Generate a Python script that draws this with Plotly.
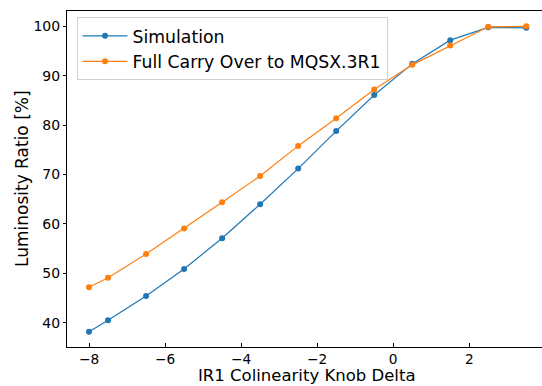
import plotly.graph_objects as go

knob_delta = [-8, -7.5, -6.5, -5.5, -4.5, -3.5, -2.5, -1.5, -0.5, 0.5, 1.5, 2.5, 3.5]
simulation = [38.2, 40.5, 45.4, 50.9, 57.1, 64.0, 71.2, 78.8, 86.1, 92.4, 97.2, 99.8, 99.7]
full_carry = [47.2, 49.1, 53.9, 59.1, 64.4, 69.7, 75.8, 81.4, 87.2, 92.2, 96.1, 99.9, 100.0]

x_ticks = [-8, -6, -4, -2, 0, 2, 4]
y_ticks = [40, 50, 60, 70, 80, 90, 100]

FONT = "DejaVu Sans"

fig = go.Figure()
fig.add_trace(go.Scatter(
    x=knob_delta, y=simulation, mode="lines+markers", name="Simulation",
    line=dict(color="#1f77b4", width=1.2), marker=dict(color="#1f77b4", size=6),
    cliponaxis=False,
))
fig.add_trace(go.Scatter(
    x=knob_delta, y=full_carry, mode="lines+markers", name="Full Carry Over to MQSX.3R1",
    line=dict(color="#ff7f0e", width=1.2), marker=dict(color="#ff7f0e", size=6),
    cliponaxis=False,
))

fig.update_layout(
    width=542, height=386,
    margin=dict(l=67, r=0, t=11, b=39),
    plot_bgcolor="white", paper_bgcolor="white",
    font=dict(family=FONT, size=14, color="black"),
    legend=dict(
        x=0.02, y=0.982, xanchor="left", yanchor="top",
        bgcolor="rgba(255,255,255,0.8)", bordercolor="#d0d0d0", borderwidth=1,
        font=dict(family=FONT, size=17.3, color="black"),
        itemwidth=45, tracegroupgap=0,
    ),
    xaxis=dict(
        range=[-8.579, 3.913], tickvals=x_ticks, ticktext=["\u22128", "\u22126", "\u22124", "\u22122", "0", "2", "4"],
        showline=True, linecolor="black", linewidth=1, mirror=True,
        ticks="inside", ticklen=4, tickcolor="black", showgrid=False, zeroline=False,
        tickfont=dict(size=13.7),
    ),
    yaxis=dict(
        range=[35.1, 103.1], tickvals=y_ticks,
        showline=True, linecolor="black", linewidth=1, mirror=False,
        ticks="outside", ticklen=3, tickcolor="black", showgrid=False, zeroline=False,
        tickfont=dict(size=14),
    ),
    annotations=[
        dict(text="IR1 Colinearity Knob Delta", xref="paper", yref="paper",
             x=(307.5 - 67.3) / (542 - 67.3), y=0, xanchor="center", yanchor="bottom",
             yshift=-39.3, showarrow=False, font=dict(size=16.5), borderpad=0),
        dict(text="Luminosity Ratio [%]", xref="paper", yref="paper",
             x=0, y=0.5, xanchor="center", yanchor="middle", xshift=-45,
             textangle=-90, showarrow=False, font=dict(size=17)),
    ],
)

fig.write_html("out.html")
